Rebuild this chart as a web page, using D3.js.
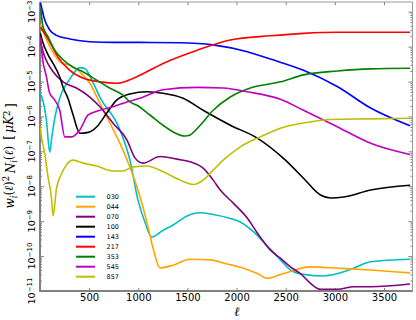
<!DOCTYPE html>
<html>
<head>
<meta charset="utf-8">
<script src="https://cdn.jsdelivr.net/npm/d3@7/dist/d3.min.js"></script>
<style>
  body { margin: 0; background: #fff; }
  svg { display: block; }
</style>
</head>
<body>
<svg id="chart" width="416" height="320"></svg>
<script>
// channel names and line colours (legend order)
const channels = ['030', '044', '070', '100', '143', '217', '353', '545', '857'];
const colors = ['#00bfbf', '#ffa500', '#800080', '#000000', '#0000ff', '#ff0000', '#008000', '#bf00bf', '#bfbf00'];

const xTickValues = [500, 1000, 1500, 2000, 2500, 3000, 3500];
const yTickExponents = [-11, -10, -9, -8, -7, -6, -5, -4, -3];

// [ell, w_i^2 N_i]
const noise030 = [[2, 4.7e-6], [28, 2.95e-6], [65, 7.9e-7], [99, 9.5e-8], [116, 2.1e-7], [150, 8.9e-7], [201, 3.4e-6],
  [303, 1.17e-5], [405, 2.5e-5], [456, 2.35e-5], [541, 9.1e-6], [609, 3.6e-6], [814, 4.1e-7], [915, 5.6e-8],
  [997, 4.0e-9], [1068, 9.3e-10], [1137, 3.5e-10], [1252, 5.5e-10], [1354, 7.8e-10], [1497, 1.41e-9],
  [1630, 1.74e-9], [1762, 1.55e-9], [1936, 1.2e-9], [2038, 9.5e-10], [2171, 5.0e-10], [2273, 2.57e-10],
  [2446, 7.8e-11], [2548, 4.0e-11], [2681, 3.0e-11], [2885, 2.7e-11], [3028, 3.16e-11], [3191, 4.5e-11],
  [3364, 6.9e-11], [3765, 8.1e-11]];
const noise044 = [[2, 4.2e-4], [48, 2.1e-4], [119, 7.9e-5], [218, 3.4e-5], [303, 2.95e-5], [405, 1.9e-5],
  [507, 8.9e-6], [609, 2.4e-6], [711, 6.5e-7], [844, 1.1e-7], [915, 3.5e-8], [987, 9.5e-9], [1048, 2.5e-9],
  [1099, 6.8e-10], [1150, 1.7e-10], [1221, 4.6e-11], [1354, 5.5e-11], [1527, 8.1e-11], [1732, 7.8e-11],
  [1905, 5.9e-11], [2038, 4.8e-11], [2211, 3.16e-11], [2313, 2.3e-11], [2477, 3.16e-11], [2752, 4.9e-11],
  [3028, 4.5e-11], [3364, 4.0e-11], [3765, 3.3e-11]];
const noise070 = [[2, 1.38e-4], [48, 5.1e-5], [133, 1.9e-5], [235, 9.8e-6], [371, 6.5e-6], [507, 3.6e-6],
  [609, 1.9e-6], [742, 6.5e-7], [885, 2.1e-7], [966, 6.5e-8], [1048, 4.6e-8], [1221, 7.1e-8], [1392, 6.0e-8],
  [1527, 5.0e-8], [1660, 3.3e-8], [1762, 1.5e-8], [1834, 7.8e-9], [1966, 3.3e-9], [2109, 1.23e-9],
  [2211, 4.6e-10], [2344, 1.48e-10], [2446, 8.7e-11], [2548, 4.9e-11], [2650, 3.16e-11], [2752, 1.66e-11],
  [2854, 1.12e-11], [3028, 1.12e-11], [3191, 1.32e-11], [3364, 1.32e-11], [3765, 1.58e-11]];
const noise100 = [[2, 2.45e-4], [31, 1.26e-4], [82, 5.8e-5], [133, 3.3e-5], [201, 1.35e-5], [235, 6.9e-6],
  [286, 3.2e-6], [337, 1.1e-6], [405, 3.3e-7], [490, 3.5e-7], [576, 5.0e-7], [678, 1.23e-6], [780, 2.95e-6],
  [915, 4.4e-6], [1089, 5.1e-6], [1252, 4.6e-6], [1456, 3.3e-6], [1660, 1.5e-6], [1936, 5.6e-7],
  [2211, 2.4e-7], [2497, 5.6e-8], [2681, 1.7e-8], [2854, 5.6e-9], [2956, 4.6e-9], [3089, 4.9e-9],
  [3364, 7.8e-9], [3765, 1.07e-8]];
const noise143 = [[5, 1.8e-3], [48, 5.8e-4], [99, 3.0e-4], [167, 2.1e-4], [303, 1.66e-4], [507, 1.38e-4],
  [742, 1.32e-4], [1017, 1.32e-4], [1425, 1.29e-4], [1762, 1.12e-4], [2109, 7.1e-5], [2344, 4.4e-5],
  [2681, 2.1e-5], [3028, 7.1e-6], [3364, 1.74e-6], [3765, 5.4e-7]];
const noise217 = [[7, 3.6e-4], [99, 1.38e-4], [181, 5.1e-5], [303, 2.1e-5], [436, 1.26e-5], [609, 9.8e-6],
  [783, 8.9e-6], [946, 1.23e-5], [1252, 3.3e-5], [1599, 7.9e-5], [1936, 1.55e-4], [2344, 2.04e-4],
  [2681, 2.4e-4], [3028, 2.57e-4], [3765, 2.57e-4]];
const noise353 = [[7, 1.26e-3], [31, 3.7e-4], [82, 1.9e-4], [150, 7.9e-5], [235, 4.2e-5], [334, 2.6e-5],
  [436, 1.9e-5], [576, 1.1e-5], [707, 6.5e-6], [844, 4.1e-6], [915, 2.6e-6], [987, 2.1e-6], [1119, 1.1e-6],
  [1252, 5.6e-7], [1354, 3.6e-7], [1476, 2.75e-7], [1527, 2.95e-7], [1630, 5.6e-7], [1762, 1.5e-6],
  [1936, 3.6e-6], [2140, 6.5e-6], [2446, 9.8e-6], [2681, 1.55e-5], [3028, 2.0e-5], [3364, 2.3e-5],
  [3765, 2.4e-5]];
const noise545 = [[7, 1.78e-4], [24, 5.1e-5], [65, 1.38e-5], [99, 4.6e-6], [150, 2.95e-6], [201, 1.5e-6],
  [252, 2.6e-7], [320, 2.6e-7], [405, 4.1e-7], [490, 1.1e-6], [609, 1.5e-6], [742, 1.9e-6], [885, 2.6e-6],
  [1017, 3.3e-6], [1252, 5.8e-6], [1599, 6.8e-6], [1864, 6.5e-6], [2109, 5.1e-6], [2446, 3.1e-6],
  [2681, 1.5e-6], [3028, 5.0e-7], [3364, 1.7e-7], [3765, 8.1e-8]];
const noise857 = [[0, 5.0e-7], [14, 2.6e-7], [48, 8.9e-8], [82, 1.8e-8], [116, 4.9e-9], [133, 1.41e-9],
  [167, 8.3e-9], [218, 2.24e-8], [269, 4.1e-8], [337, 5.6e-8], [439, 4.6e-8], [576, 3.8e-8], [742, 2.75e-8],
  [844, 2.75e-8], [946, 3.6e-8], [1089, 3.8e-8], [1252, 2.6e-8], [1425, 1.5e-8], [1558, 1.12e-8],
  [1660, 1.5e-8], [1762, 2.9e-8], [1864, 5.6e-8], [2038, 1.35e-7], [2242, 2.6e-7], [2446, 4.6e-7],
  [2681, 6.5e-7], [3028, 8.3e-7], [3364, 8.5e-7], [3765, 8.9e-7]];

const series = [noise030, noise044, noise070, noise100, noise143, noise217, noise353, noise545, noise857];

const plot = {left: 40, right: 412.5, top: 2, bottom: 291};

const svg = d3.select('#chart');

const x = d3
  .scaleLinear()
  .domain([0, 3790])
  .range([plot.left, plot.right]);

const y = d3
  .scaleLog()
  .domain([1e-11, Math.pow(10, -2.722)])
  .range([plot.bottom, plot.top]);

svg
  .append('defs')
  .append('clipPath')
  .attr('id', 'plot_clip')
  .append('rect')
  .attr('x', plot.left)
  .attr('y', plot.top)
  .attr('width', plot.right - plot.left)
  .attr('height', plot.bottom - plot.top);

// minor log ticks 2..9 per decade
const yMajor = yTickExponents.map(e => Math.pow(10, e));
const yMinor = [];
yTickExponents.forEach(e => {
  d3.range(2, 10).forEach(m => {
    const v = m * Math.pow(10, e);
    if (v <= y.domain()[1]) yMinor.push(v);
  });
});

const tickStyle = g => {
  g.select('.domain').remove();
  g.selectAll('.tick line').attr('stroke', '#808080');
  g.selectAll('.tick text').remove();
};

// ticks on all four sides, pointing inwards
svg.append('g').attr('transform', 'translate(' + plot.left + ',0)')
  .call(d3.axisLeft(y).tickValues(yMajor).tickSize(-4)).call(tickStyle);
svg.append('g').attr('transform', 'translate(' + plot.left + ',0)')
  .call(d3.axisLeft(y).tickValues(yMinor).tickSize(-2)).call(tickStyle);
svg.append('g').attr('transform', 'translate(' + plot.right + ',0)')
  .call(d3.axisRight(y).tickValues(yMajor).tickSize(-4)).call(tickStyle);
svg.append('g').attr('transform', 'translate(' + plot.right + ',0)')
  .call(d3.axisRight(y).tickValues(yMinor).tickSize(-2)).call(tickStyle);
svg.append('g').attr('transform', 'translate(0,' + plot.top + ')')
  .call(d3.axisTop(x).tickValues(xTickValues).tickSize(-3)).call(tickStyle);

const xAxis = svg
  .append('g')
  .attr('transform', 'translate(0,' + plot.bottom + ')')
  .call(d3.axisBottom(x).tickValues(xTickValues).tickFormat(d3.format('d')).tickSize(-3).tickPadding(3));
xAxis.select('.domain').remove();
xAxis.selectAll('.tick line').attr('stroke', '#808080');
xAxis
  .selectAll('.tick text')
  .attr('fill', '#000')
  .style('font-family', 'DejaVu Sans')
  .style('font-size', '10px');

// y tick labels, rotated, 10^n
yTickExponents.forEach(e => {
  const t = svg
    .append('text')
    .attr('transform', 'translate(35,' + y(Math.pow(10, e)) + ') rotate(-90)')
    .attr('text-anchor', 'middle')
    .style('font-family', 'DejaVu Sans')
    .style('font-size', '9.5px');
  t.append('tspan').text('10');
  t.append('tspan')
    .attr('dy', '-0.45em')
    .style('font-size', '7px')
    .text('\u2212' + Math.abs(e));
});

// spines
svg.append('line')
  .attr('x1', plot.left).attr('x2', plot.right).attr('y1', plot.top).attr('y2', plot.top)
  .attr('stroke', '#999').attr('stroke-width', 1);
svg.append('line')
  .attr('x1', plot.right).attr('x2', plot.right).attr('y1', plot.top).attr('y2', plot.bottom)
  .attr('stroke', '#999').attr('stroke-width', 1);
svg.append('line')
  .attr('x1', plot.left).attr('x2', plot.left).attr('y1', plot.top).attr('y2', plot.bottom + 1)
  .attr('stroke', '#808080').attr('stroke-width', 2);
svg.append('line')
  .attr('x1', plot.left - 1).attr('x2', plot.right).attr('y1', plot.bottom).attr('y2', plot.bottom)
  .attr('stroke', '#808080').attr('stroke-width', 2);

const drawNoiseLine = d3
  .line()
  .x(d => x(d[0]))
  .y(d => y(d[1]))
  .curve(d3.curveMonotoneX);

svg
  .append('g')
  .attr('clip-path', 'url(#plot_clip)')
  .selectAll('.noise_line')
  .data(series)
  .enter()
  .append('path')
  .attr('class', (d, i) => 'noise_line noise_line_' + channels[i])
  .attr('d', drawNoiseLine)
  .style('fill', 'none')
  .style('stroke', (d, i) => colors[i])
  .style('stroke-width', 1.6)
  .style('stroke-linejoin', 'round');

// legend
const legend = svg
  .selectAll('.g_legend')
  .data(channels)
  .enter()
  .append('g')
  .attr('class', 'g_legend')
  .attr('transform', (d, i) => 'translate(76,' + (196.7 + i * 10) + ')');

legend
  .append('line')
  .attr('x1', 0)
  .attr('x2', 19)
  .style('stroke', (d, i) => colors[i])
  .style('stroke-width', 2);

legend
  .append('text')
  .text(d => d)
  .attr('x', 30.5)
  .attr('dy', '0.35em')
  .style('font-family', 'DejaVu Sans')
  .style('font-size', '6.5px');

// axis titles
svg
  .append('text')
  .attr('x', 237)
  .attr('y', 316)
  .attr('text-anchor', 'middle')
  .style('font-family', 'DejaVu Serif')
  .style('font-style', 'italic')
  .style('font-size', '13px')
  .text('\u2113');

const yLabel = svg
  .append('text')
  .attr('transform', 'translate(14,156) rotate(-90)')
  .attr('text-anchor', 'middle')
  .style('font-family', 'DejaVu Serif')
  .style('font-style', 'italic')
  .style('font-size', '12px');
yLabel.append('tspan').text('w');
yLabel.append('tspan').attr('dy', '0.3em').style('font-size', '8.5px').text('i');
yLabel.append('tspan').attr('dy', '-0.3em').style('font-style', 'normal').text('(');
yLabel.append('tspan').text('\u2113');
yLabel.append('tspan').style('font-style', 'normal').text(')');
yLabel.append('tspan').attr('dy', '-0.45em').style('font-size', '8.5px').style('font-style', 'normal').text('2');
yLabel.append('tspan').attr('dy', '0.45em').text('\u2009N');
yLabel.append('tspan').attr('dy', '0.3em').style('font-size', '8.5px').text('i');
yLabel.append('tspan').attr('dy', '-0.3em').style('font-style', 'normal').text('(');
yLabel.append('tspan').text('\u2113');
yLabel.append('tspan').style('font-style', 'normal').text(')\u2002[\u2009');
yLabel.append('tspan').text('\u03bcK');
yLabel.append('tspan').attr('dy', '-0.45em').style('font-size', '8.5px').style('font-style', 'normal').text('2');
yLabel.append('tspan').attr('dy', '0.45em').style('font-style', 'normal').text('\u2009]');
</script>
</body>
</html>
